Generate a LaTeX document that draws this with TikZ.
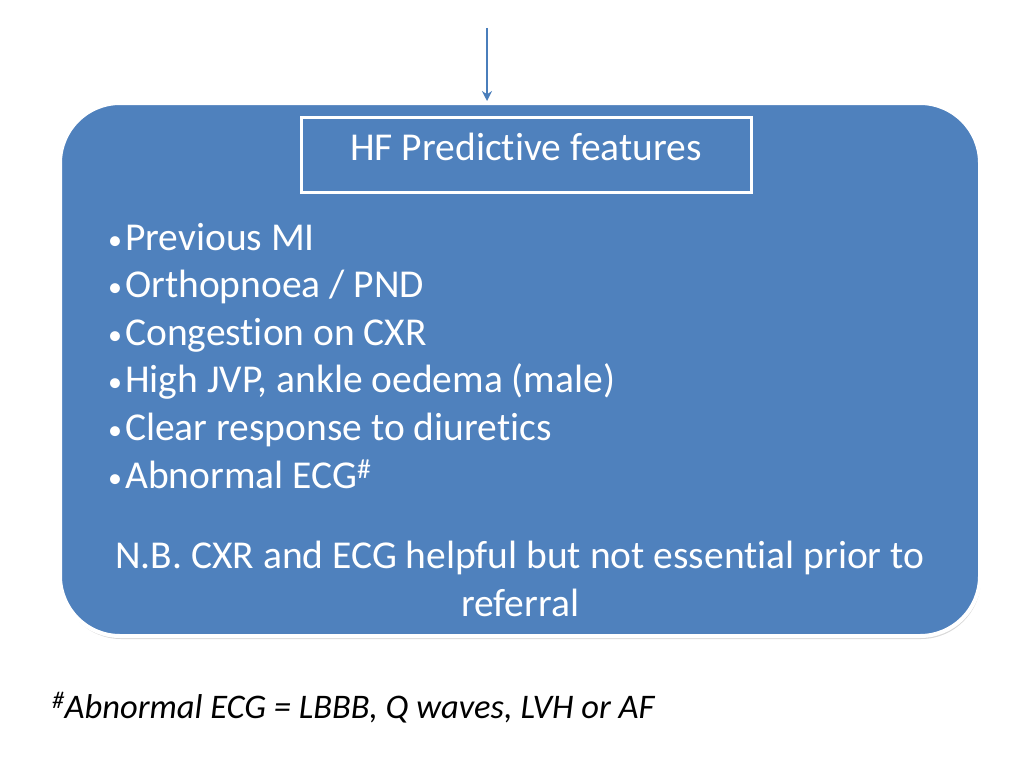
\documentclass[tikz,border=0pt]{standalone}
\usepackage{fontspec}
\setmainfont{Carlito}[Ligatures=NoCommon]
\usetikzlibrary{shadows,arrows.meta}
\definecolor{boxblue}{HTML}{4F81BD}
\definecolor{arrblue}{HTML}{4A7EBB}
\begin{document}
\begin{tikzpicture}[x=1pt,y=-1pt,
  bul/.style={anchor=base west,text=white,font=\fontsize{39.5}{46}\selectfont,inner sep=0},
  txt/.style={text=white,font=\fontsize{39.5}{46}\selectfont}]
\useasboundingbox (0,0) rectangle (1024,768);
\node (main) [draw=white,line width=4pt,fill=boxblue,rounded corners=60pt,minimum width=920pt,minimum height=533pt,drop shadow={shadow xshift=1pt,shadow yshift=-3pt,opacity=0.3}] at (520,369.5) {};
\coordinate (top) at (487,28);
\draw[arrblue,line width=2pt,-{Stealth[length=10pt,width=10pt]}] (top) -- (main.north -| top);
\node (title) [draw=white,line width=3pt,fill=boxblue,minimum width=450pt,minimum height=75pt,drop shadow={shadow xshift=1pt,shadow yshift=-2pt,opacity=0.3},txt,text depth=0pt,text height=0pt] at (526,154.5) {};
\node (tt) [txt,anchor=base] at (526,160) {HF Predictive features};
\foreach \t [count=\i] in {Previous MI,Orthopnoea / PND,Congestion on CXR,{High JVP, ankle oedema (male)},Clear response to diuretics,Abnormal ECG\textsuperscript{\#}}{
  \node (b\i) [bul] at (108,{238+47.6*(\i-1)+12}) {\raisebox{1pt}{\fontsize{28}{30}\selectfont\textbullet}\hspace{3pt}\t};
}
\node (nb) [txt,align=center,font=\fontsize{39.5}{47.5}\selectfont] at (520,579) {N.B. CXR and ECG helpful but not essential prior to\\referral};
\node (foot) [anchor=base west,inner sep=0,font=\fontsize{34.5}{40}\selectfont\itshape] at (52,718) {\textsuperscript{\#}Abnormal ECG = LBBB, Q waves, LVH or AF};
\end{tikzpicture}
\end{document}
